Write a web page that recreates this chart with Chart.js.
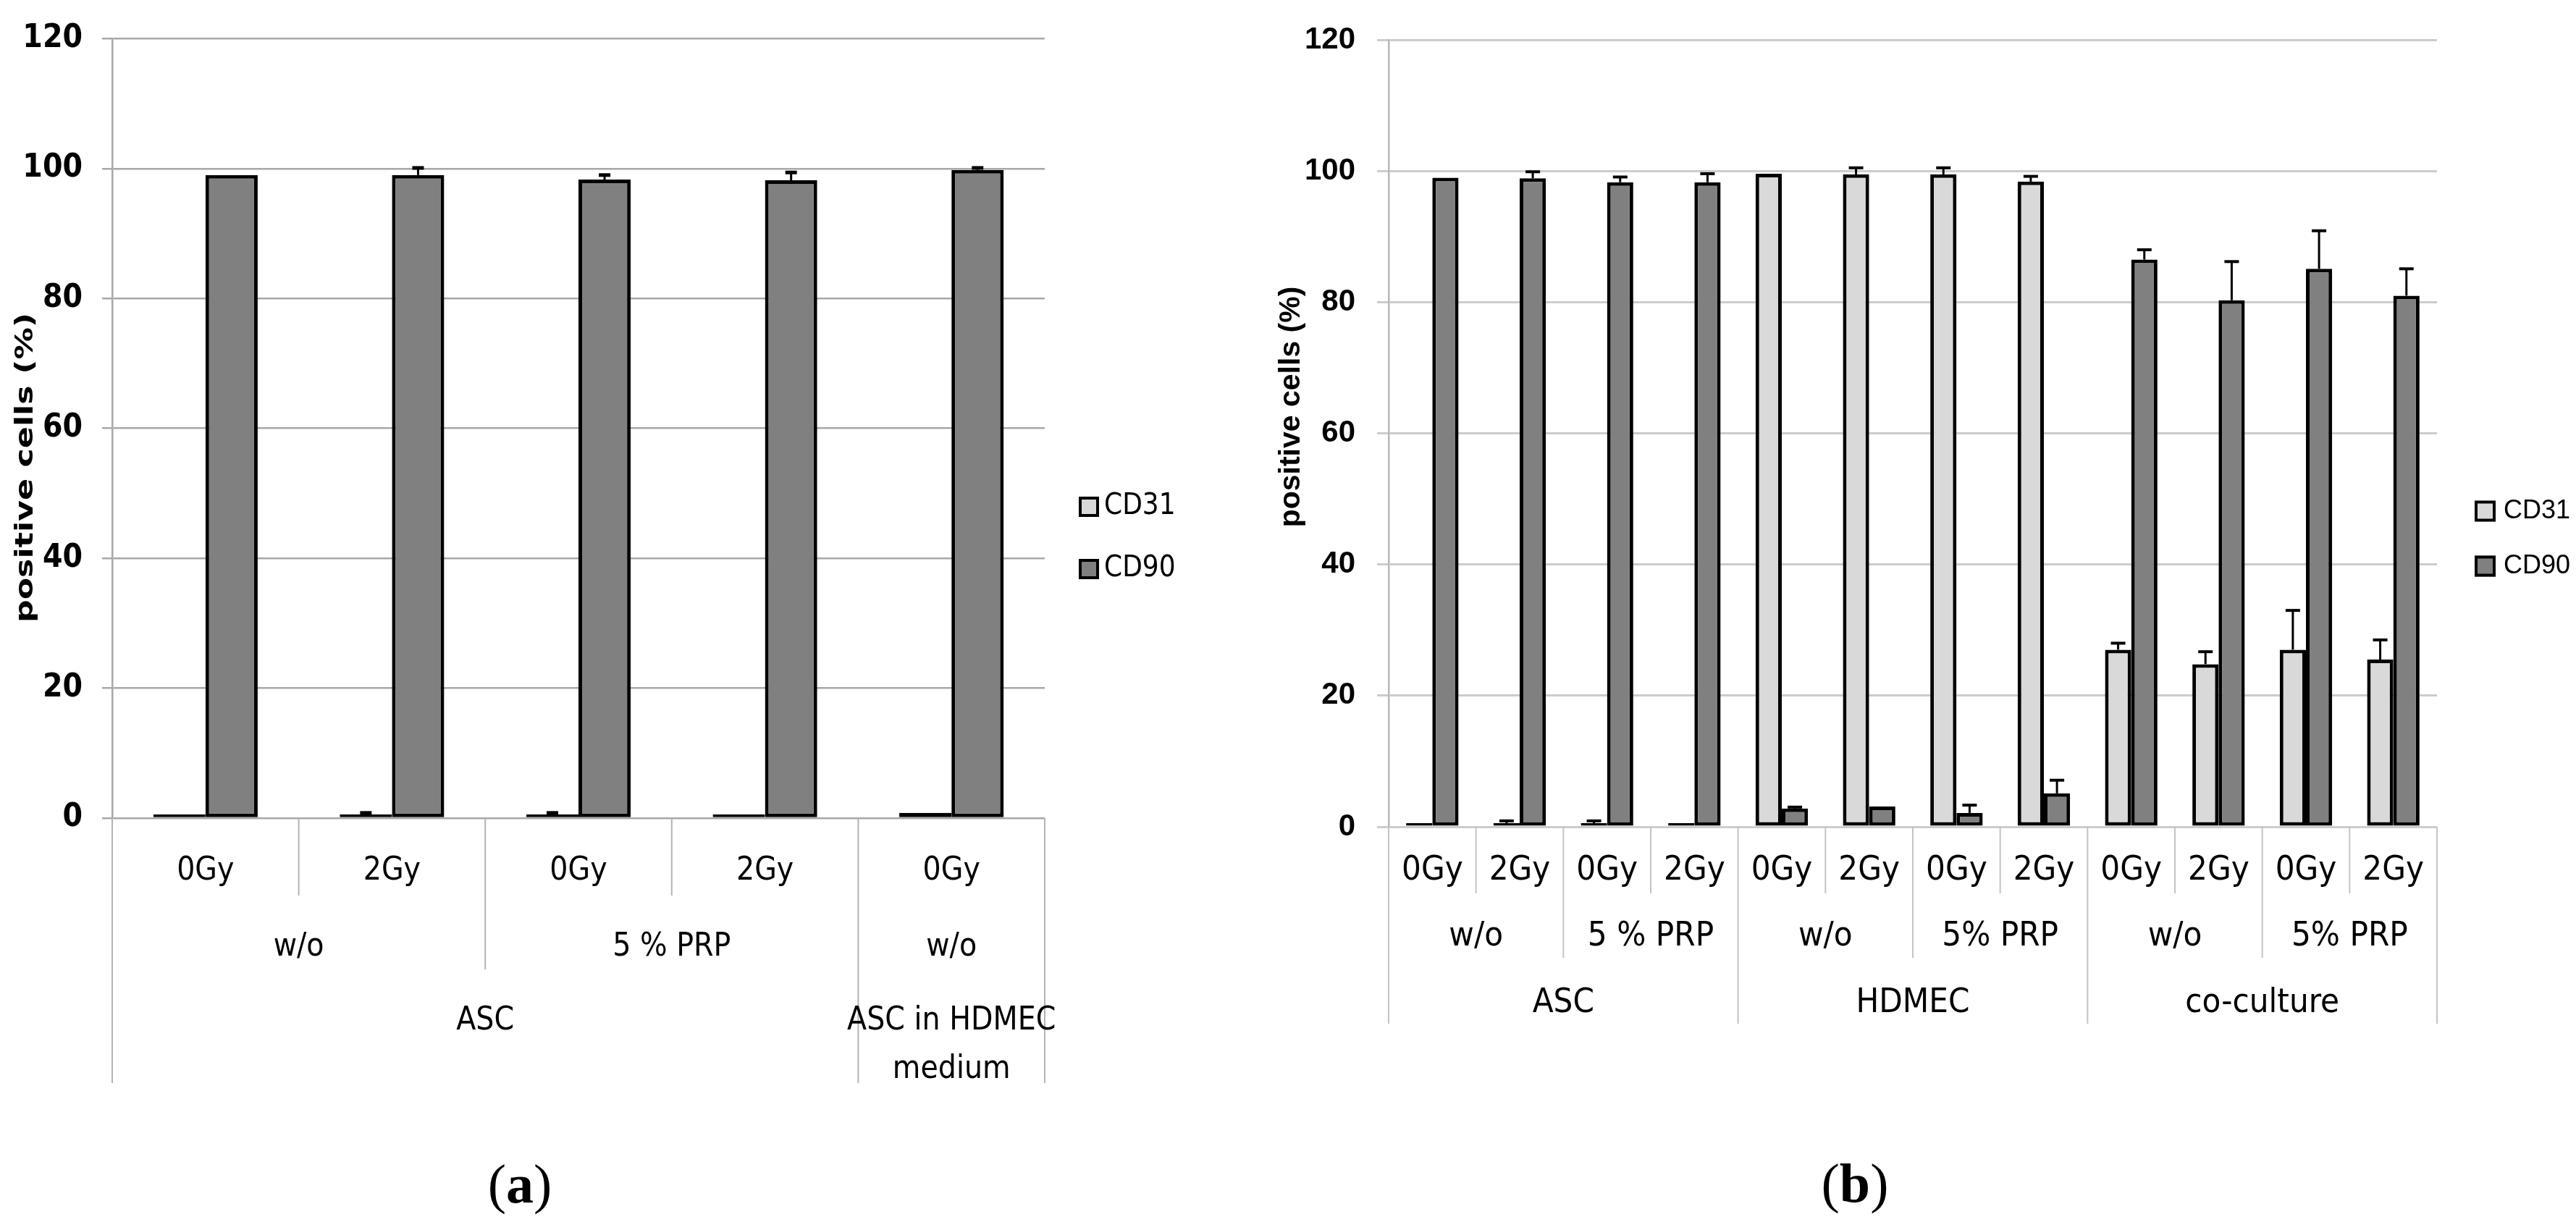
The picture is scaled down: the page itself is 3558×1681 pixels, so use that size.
<!DOCTYPE html>
<html>
<head>
<meta charset="utf-8">
<title>CD31 / CD90 positive cells</title>
<script src="https://cdn.jsdelivr.net/npm/chart.js@4.4.1/dist/chart.umd.min.js"></script>
<style>
  body { margin: 0; background: #fff; width: 3558px; height: 1681px; overflow: hidden; position: relative; }
  .box { position: absolute; top: 0; height: 1681px; }
  #boxA { left: 0; width: 1720px; }
  #boxB { left: 1720px; width: 1838px; }
  .panel { position: absolute; width: 200px; text-align: center; color: #000;
           font-family: "Liberation Serif", "Times New Roman", serif; font-size: 76px; line-height: 76px; }
</style>
</head>
<body>
<div class="box" id="boxA"><canvas id="chartA"></canvas></div>
<div class="box" id="boxB"><canvas id="chartB"></canvas></div>
<div class="panel" style="left:618px;top:1597px">(<b>a</b>)</div>
<div class="panel" style="left:2462px;top:1596px">(<b>b</b>)</div>
<script>
const NARROW = '"Liberation Sans Narrow", "Arial Narrow", "DejaVu Sans Condensed", sans-serif';
const SANS = '"Liberation Sans", Arial, sans-serif';

const yTicks = [0, 20, 40, 60, 80, 100, 120];

// panel (a)
const doseA = ['0Gy', '2Gy', '0Gy', '2Gy', '0Gy'];
const mediumA = ['w/o', '5 % PRP', 'w/o'];
const mediumSizeA = [2, 2, 1];
const cellA = [['ASC'], ['ASC in HDMEC', 'medium']];
const cellSizeA = [4, 1];
const cd31A = [0.2, 0.4, 0.4, 0.2, 0.8];
const cd31ErrA = [0, 0.4, 0.4, 0, 0];
const cd90A = [99.0, 99.0, 98.3, 98.2, 99.8];
const cd90ErrA = [0, 1.1, 0.7, 1.2, 0.3];

// panel (b)
const doseB = ['0Gy', '2Gy', '0Gy', '2Gy', '0Gy', '2Gy', '0Gy', '2Gy', '0Gy', '2Gy', '0Gy', '2Gy'];
const mediumB = ['w/o', '5 % PRP', 'w/o', '5% PRP', 'w/o', '5% PRP'];
const mediumSizeB = [2, 2, 2, 2, 2, 2];
const cellB = [['ASC'], ['HDMEC'], ['co-culture']];
const cellSizeB = [4, 4, 4];
const cd31B = [0.2, 0.4, 0.4, 0.2, 99.6, 99.5, 99.5, 98.4, 27.0, 24.8, 27.0, 25.5];
const cd31ErrB = [0, 0.5, 0.5, 0, 0, 1.0, 1.0, 0.8, 1.0, 1.9, 6.0, 3.0];
const cd90B = [99.0, 98.9, 98.3, 98.3, 2.8, 3.1, 2.1, 5.1, 86.5, 80.3, 85.1, 81.0];
const cd90ErrB = [0, 1.0, 0.8, 1.3, 0.2, 0, 1.2, 2.0, 1.5, 5.9, 5.8, 4.1];

const seriesNames = ['CD31', 'CD90'];
const seriesFill = ['#d9d9d9', '#808080'];

// error bars, grouped category labels, legend and y title
function makeDecor(cfg) {
  return {
    id: 'decor',
    afterDatasetsDraw(chart) {
      const ctx = chart.ctx, y = chart.scales.y;
      ctx.save();
      ctx.strokeStyle = '#000';
      chart.data.datasets.forEach((ds, di) => {
        const meta = chart.getDatasetMeta(di);
        ds.errors.forEach((e, i) => {
          if (!e) return;
          const bar = meta.data[i];
          const top = y.getPixelForValue(ds.data[i] + e);
          ctx.lineWidth = cfg.errLine;
          ctx.beginPath(); ctx.moveTo(bar.x, bar.y); ctx.lineTo(bar.x, top); ctx.stroke();
          ctx.lineWidth = cfg.capLine;
          ctx.beginPath(); ctx.moveTo(bar.x - cfg.cap / 2, top); ctx.lineTo(bar.x + cfg.cap / 2, top); ctx.stroke();
        });
      });
      ctx.restore();
    },
    afterDraw(chart) {
      const ctx = chart.ctx, x = chart.scales.x, area = chart.chartArea;
      const n = chart.data.labels.length;
      const w = (x.right - x.left) / n;
      ctx.save();

      // divider lines, each as deep as the deepest row that owns that boundary
      const depth = new Array(n + 1).fill(-1);
      cfg.rows.forEach((row, r) => {
        let k = 0;
        depth[0] = r;
        row.sizes.forEach(s => { k += s; depth[k] = r; });
      });
      ctx.strokeStyle = cfg.lineColor;
      ctx.lineWidth = cfg.lineWidth;
      depth.forEach((r, k) => {
        if (r < 0) return;
        const px = x.left + k * w;
        ctx.beginPath();
        ctx.moveTo(px, area.bottom);
        ctx.lineTo(px, area.bottom + cfg.rows[r].lineTo);
        ctx.stroke();
      });

      // row labels
      ctx.fillStyle = '#000';
      ctx.textAlign = 'center';
      ctx.textBaseline = 'middle';
      ctx.font = cfg.labelFont;
      cfg.rows.forEach(row => {
        let k = 0;
        row.labels.forEach((lab, g) => {
          const cx = x.left + (k + row.sizes[g] / 2) * w;
          [].concat(lab).forEach((t, j) => {
            ctx.fillText(t, cx, area.bottom + row.textAt + j * (row.lineStep || 0));
          });
          k += row.sizes[g];
        });
      });

      // legend
      const lg = cfg.legend;
      ctx.textAlign = 'left';
      ctx.font = lg.font;
      chart.data.datasets.forEach((ds, i) => {
        const bx = area.right + lg.dx, cy = lg.ys[i];
        ctx.fillStyle = ds.backgroundColor;
        ctx.fillRect(bx, cy - lg.box / 2, lg.box, lg.box);
        ctx.strokeStyle = '#000';
        ctx.lineWidth = 4;
        ctx.strokeRect(bx + 2, cy - lg.box / 2 + 2, lg.box - 4, lg.box - 4);
        ctx.fillStyle = '#000';
        ctx.fillText(ds.label, bx + lg.textDx, cy);
      });

      // y axis title
      const tt = cfg.title;
      ctx.translate(tt.x, tt.y);
      ctx.rotate(-Math.PI / 2);
      ctx.scale(tt.stretch, 1);
      ctx.textAlign = 'center';
      ctx.font = tt.font;
      ctx.fillText('positive cells (%)', 0, 0);
      ctx.restore();
    }
  };
}//makeDecor

function makeDatasets(values, errors) {
  return values.map((v, i) => ({
    label: seriesNames[i],
    data: v,
    errors: errors[i],
    backgroundColor: seriesFill[i],
    borderColor: '#000',
    borderWidth: 5,
    borderSkipped: false,
    minBarLength: 5
  }));
}

function makeConfig(p) {
  return {
    type: 'bar',
    data: {
      labels: p.labels,
      datasets: makeDatasets(p.values, p.errors)
    },
    options: {
      responsive: true,
      maintainAspectRatio: false,
      animation: false,
      layout: { padding: { top: p.top, right: p.right, bottom: 0, left: 0 } },
      datasets: { bar: { categoryPercentage: p.catPct, barPercentage: 1 } },
      plugins: { legend: { display: false }, tooltip: { enabled: false } },
      scales: {
        x: {
          ticks: { display: false },
          grid: { display: false },
          border: { display: false },
          afterFit: s => { s.height = p.xHeight; }
        },
        y: {
          min: yTicks[0],
          max: yTicks[yTicks.length - 1],
          ticks: { stepSize: yTicks[1] - yTicks[0], color: '#000', padding: p.tickPad, font: p.tickFont },
          grid: { color: p.gridColor, lineWidth: p.gridWidth, tickLength: p.tickLen },
          border: { color: p.axisColor, width: 2.5 },
          afterFit: s => { s.width = p.yWidth; }
        }
      }
    },
    plugins: [makeDecor(p.decor)]
  };
}//makeConfig

new Chart(document.getElementById('chartA'), makeConfig({
  labels: doseA,
  values: [cd31A, cd90A],
  errors: [cd31ErrA, cd90ErrA],
  top: 49, right: 277, xHeight: 551, yWidth: 155,
  catPct: 0.56,
  tickPad: 27, tickLen: 14,
  tickFont: { family: NARROW, size: 44, weight: 'bold' },
  gridColor: '#a8a8a8', gridWidth: 2.5, axisColor: '#a8a8a8',
  decor: {
    rows: [
      { labels: doseA, sizes: doseA.map(() => 1), textAt: 74, lineTo: 107 },
      { labels: mediumA, sizes: mediumSizeA, textAt: 179, lineTo: 209 },
      { labels: cellA, sizes: cellSizeA, textAt: 281, lineStep: 67, lineTo: 366 }
    ],
    labelFont: '44px ' + NARROW,
    lineColor: '#b4b4b4', lineWidth: 2,
    errLine: 3, capLine: 5, cap: 16,
    legend: { dx: 47, textDx: 35, ys: [700, 786], box: 28, font: '40px ' + NARROW },
    title: { x: 36, y: 646, stretch: 1.45, font: 'bold 34px ' + NARROW }
  }
}));

new Chart(document.getElementById('chartB'), makeConfig({
  labels: doseB,
  values: [cd31B, cd90B],
  errors: [cd31ErrB, cd90ErrB],
  top: 31, right: 192, xHeight: 539, yWidth: 198,
  catPct: 0.6,
  tickPad: 30, tickLen: 16,
  tickFont: { family: SANS, size: 42, weight: 'bold' },
  gridColor: '#cccccc', gridWidth: 3, axisColor: '#b8b8b8',
  decor: {
    rows: [
      { labels: doseB, sizes: doseB.map(() => 1), textAt: 61, lineTo: 92 },
      { labels: mediumB, sizes: mediumSizeB, textAt: 152, lineTo: 181 },
      { labels: cellB, sizes: cellSizeB, textAt: 244, lineTo: 272 }
    ],
    labelFont: '47px ' + NARROW,
    lineColor: '#c4c4c4', lineWidth: 2,
    errLine: 3, capLine: 4, cap: 20,
    legend: { dx: 52, textDx: 40, ys: [706, 782], box: 29, font: '36px ' + SANS },
    title: { x: 64, y: 562, stretch: 1, font: 'bold 41px ' + SANS }
  }
}));
</script>
</body>
</html>
